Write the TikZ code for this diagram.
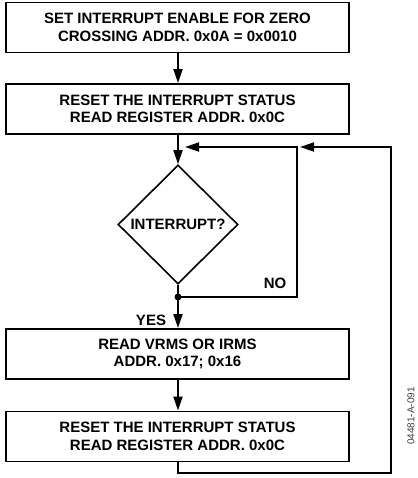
\documentclass[tikz,border=0pt]{standalone}
\usepackage{fontspec}
\setmainfont{Liberation Sans}
\usetikzlibrary{shapes.geometric,arrows.meta}
\begin{document}
\begin{tikzpicture}[x=1pt,y=-1pt,
  box/.style={draw,line width=1.9pt,minimum width=343pt,minimum height=50pt,inner sep=0pt,align=center,font=\bfseries\fontsize{15}{17.5}\selectfont},
  dec/.style={draw,diamond,line width=1.6pt,minimum width=120pt,minimum height=119pt,inner sep=0pt,font=\bfseries\fontsize{15}{17}\selectfont},
  conn/.style={line width=1.8pt},
  arr/.style={conn,-{Triangle[length=14pt,width=9pt]}},
  lbl/.style={font=\bfseries\fontsize{15}{17}\selectfont,inner sep=0pt}]
\useasboundingbox (0,0) rectangle (417,478);
\node[box] (b1) at (177.5,27.5) {SET INTERRUPT ENABLE FOR ZERO\\CROSSING ADDR. 0x0A = 0x0010};
\node[box] (b2) at (177.5,109) {RESET THE INTERRUPT STATUS\\READ REGISTER ADDR. 0x0C};
\node[dec] (d) at (178,224.5) {INTERRUPT?};
\node[box] (b3) at (177.5,354) {READ VRMS OR IRMS\\ADDR. 0x17; 0x16};
\node[box] (b4) at (177.5,436.5) {RESET THE INTERRUPT STATUS\\READ REGISTER ADDR. 0x0C};
\coordinate (dot) at (178,297);
\coordinate (ni) at (297,297);
\coordinate (nt) at (297,147);
\coordinate (m1) at (185,147);
\coordinate (c0) at (178,473);
\coordinate (c1) at (391,473);
\coordinate (c2) at (391,147);
\coordinate (m2) at (300,147);
\draw[arr] (b1.south -| d.north) -- (b2.north -| d.north);
\draw[arr] (b2.south -| d.north) -- (d.north);
\draw[conn] (d.south) -- (dot);
\draw[arr] (dot) -- (dot |- b3.north);
\fill (dot) circle (3.5pt);
\draw[arr] (dot) -- (ni) -- (nt) -- (m1);
\draw[arr] (b3.south -| d.north) -- (b4.north -| d.north);
\draw[arr] (b4.south -| d.north) -- (c0) -- (c1) -- (c2) -- (m2);
\node[lbl] (no) at (275,283) {NO};
\node[lbl] (yes) at (151,320) {YES};
\node[rotate=90,font=\fontsize{10}{12}\selectfont,text=black!75] (id) at (411,416) {04481-A-091};
\end{tikzpicture}
\end{document}
